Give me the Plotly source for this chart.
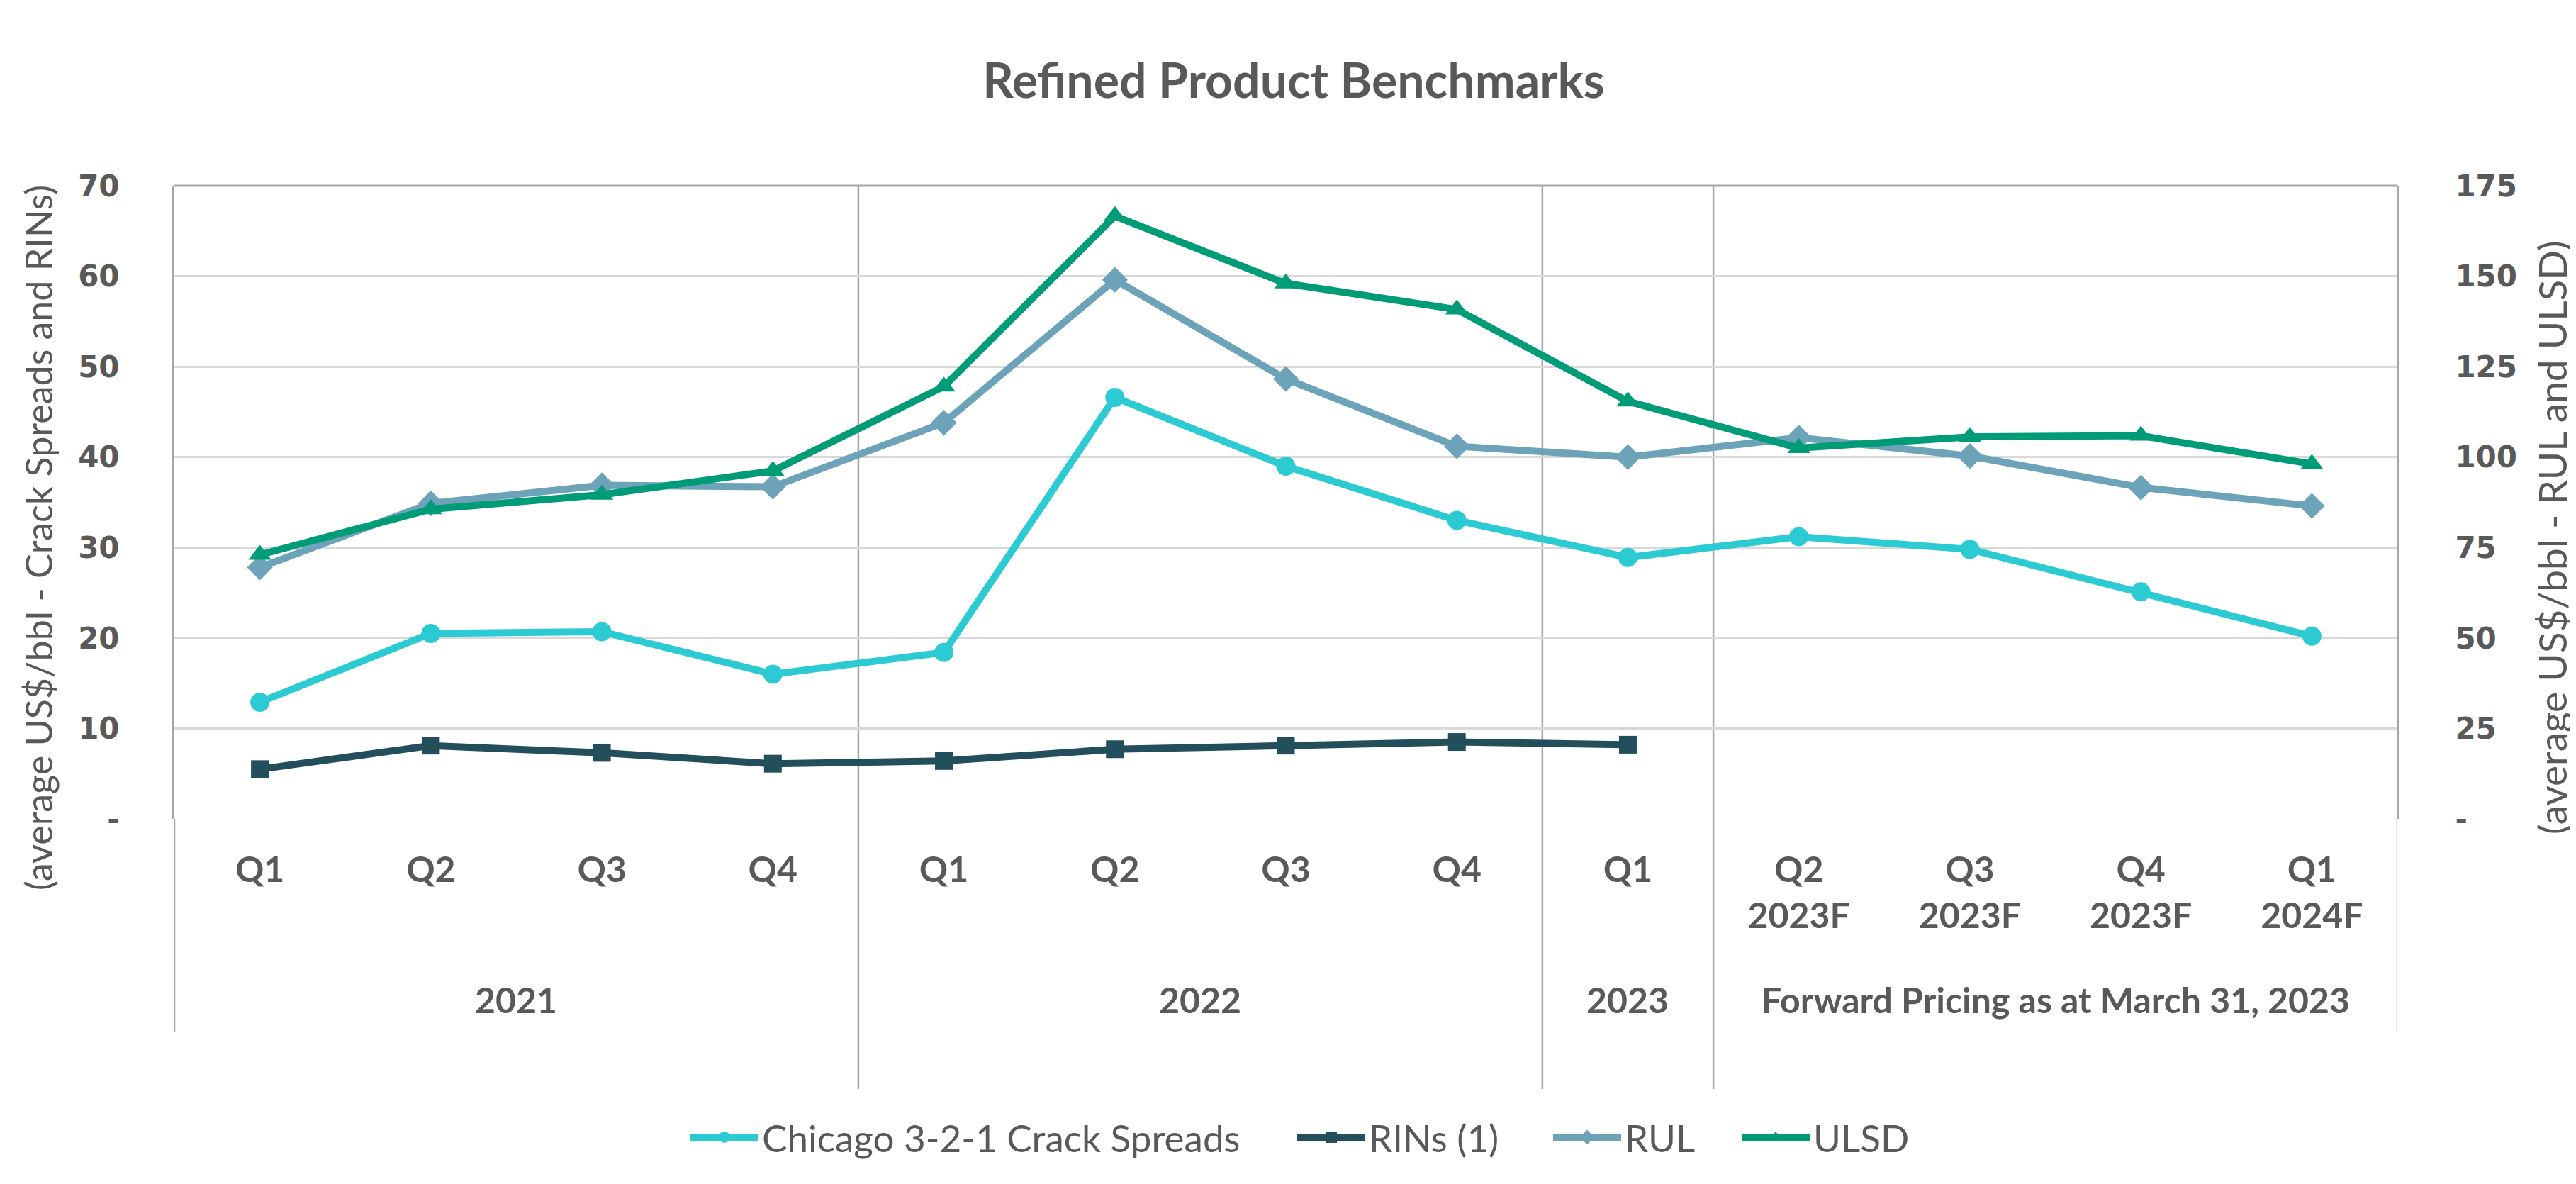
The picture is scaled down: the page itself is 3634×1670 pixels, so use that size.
import plotly.graph_objects as go

# ---------------- data ----------------
groups = ["2021"] * 4 + ["2022"] * 4 + ["2023"] + ["Forward Pricing as at March 31, 2023"] * 4
quarters = ["Q1", "Q2", "Q3", "Q4", "Q1", "Q2", "Q3", "Q4", "Q1",
            "Q2<br>2023F", "Q3<br>2023F", "Q4<br>2023F", "Q1<br>2024F"]

crack = [12.9, 20.5, 20.7, 16.0, 18.4, 46.6, 39.0, 33.0, 28.9, 31.2, 29.8, 25.1, 20.2]
rins = [5.5, 8.1, 7.3, 6.1, 6.4, 7.7, 8.1, 8.5, 8.2, None, None, None, None]
rul = [69.5, 87.2, 92.2, 91.8, 109.5, 149.0, 121.6, 103.0, 100.0, 105.4, 100.3, 91.6, 86.5]
ulsd = [73.0, 85.6, 89.6, 96.2, 119.5, 166.6, 148.0, 140.8, 115.4, 102.5, 105.6, 105.9, 98.1]

left_ticks = [0, 10, 20, 30, 40, 50, 60, 70]
right_ticks = [0, 25, 50, 75, 100, 125, 150, 175]

# ---------------- style ----------------
TXT = "#595959"
GRID = "#D9D9D9"
BORDER = "#A6A6A6"
C_CRACK = "#2CCBD3"
C_RINS = "#234E5C"
C_RUL = "#6CA3B9"
C_ULSD = "#009B77"
FONT = "Lato"
NUMFONT = "DejaVu Sans"

keys = [f"{g}|{i}" for i, g in enumerate(groups)]

W, H = 3634, 1670
L, R, T, B = 238, 260, 254, 523
plot_h = H - T - B


def py(pix):
    """convert image pixel row to paper y"""
    return (H - B - pix) / plot_h


def px(pix):
    return (pix - L) / (W - L - R)


series = [
    ("Chicago 3-2-1 Crack Spreads", crack, C_CRACK, "circle", 27, "y", "legend", 967),
    ("RINs (1)", rins, C_RINS, "square", 25, "y", "legend2", 1823),
    ("RUL", rul, C_RUL, "diamond", 28, "y2", "legend3", 2184),
    ("ULSD", ulsd, C_ULSD, "triangle-up", 28, "y2", "legend4", 2450),
]

fig = go.Figure()
legends = {}
for name, vals, col, sym, size, yax, leg, lx in series:
    fig.add_trace(go.Scatter(x=keys, y=vals, name=name, mode="lines+markers", yaxis=yax,
                             legend=leg,
                             line=dict(color=col, width=10),
                             marker=dict(symbol=sym, size=size, color=col)))
    legends[leg] = dict(orientation="h", x=px(lx - 6), xanchor="left", xref="paper",
                        y=py(1596), yanchor="middle",
                        font=dict(family=FONT, size=53, color=TXT), itemwidth=96,
                        bgcolor="rgba(0,0,0,0)", borderwidth=0)

fig.update_layout(
    template="none",
    width=W, height=H,
    margin=dict(l=L, r=R, t=T, b=B, autoexpand=False),
    paper_bgcolor="white", plot_bgcolor="white",
    title=dict(text="<b>Refined Product Benchmarks</b>", x=0.5, xref="container", xanchor="center",
               y=1 - 106 / H, yref="container", yanchor="middle",
               font=dict(family=FONT, size=68, color=TXT)),
    xaxis=dict(type="category", categoryorder="array", categoryarray=keys, automargin=False,
               tickvals=keys, ticktext=quarters, ticks="", showgrid=False, zeroline=False,
               showline=False, range=[-0.5, len(keys) - 0.5], tickangle=0,
               tickfont=dict(family=FONT, size=50, color=TXT, weight="bold"),
               ticklabelstandoff=38),
    yaxis=dict(range=[0, 70], tickvals=left_ticks, automargin=False,
               ticktext=["-" if v == 0 else str(v) for v in left_ticks],
               showgrid=True, gridcolor=GRID, gridwidth=3, zeroline=False,
               showline=True, linecolor=BORDER, linewidth=3, ticks="",
               tickfont=dict(family=NUMFONT, size=42, color=TXT, weight="bold"),
               ticklabelstandoff=66),
    yaxis2=dict(range=[0, 175], tickvals=right_ticks, automargin=False,
                ticktext=["-" if v == 0 else str(v) for v in right_ticks],
                overlaying="y", side="right", showgrid=False, zeroline=False,
                showline=True, linecolor=BORDER, linewidth=3, ticks="",
                tickfont=dict(family=NUMFONT, size=42, color=TXT, weight="bold"),
                ticklabelstandoff=70),
    showlegend=True,
    **legends,
)

# axis titles
fig.add_annotation(text="(average US$/bbl - Crack Spreads and RINs)", textangle=-90,
                   xref="paper", yref="paper", x=px(46), y=py(751), showarrow=False,
                   xanchor="center", yanchor="middle",
                   font=dict(family=FONT, size=52, color=TXT))
fig.add_annotation(text="(average US$/bbl - RUL and ULSD)", textangle=-90,
                   xref="paper", yref="paper", x=px(3592), y=py(750), showarrow=False,
                   xanchor="center", yanchor="middle",
                   font=dict(family=FONT, size=55, color=TXT))

# group labels and dividers
bounds = [-0.5]
uniq = []
for i, g in enumerate(groups):
    if i == 0 or g != groups[i - 1]:
        if i > 0:
            bounds.append(i - 0.5)
        uniq.append([g, i, i])
    else:
        uniq[-1][2] = i
bounds.append(len(groups) - 0.5)

for g, a, b in uniq:
    fig.add_annotation(text=f"<b>{g}</b>", x=(a + b) / 2, xref="x", y=py(1402), yref="paper",
                       showarrow=False, xanchor="center", yanchor="middle",
                       font=dict(family=FONT, size=50, color=TXT))

for j, bx in enumerate(bounds):
    edge = j == 0 or j == len(bounds) - 1
    fig.add_shape(type="line", xref="x", yref="paper", x0=bx, x1=bx,
                  y0=0 if edge else 1, y1=py(1447) if edge else py(1528),
                  line=dict(color=BORDER, width=2.5), layer="below")

# top border
fig.add_shape(type="line", xref="paper", yref="paper", x0=0, x1=1, y0=1, y1=1,
              line=dict(color=BORDER, width=3), layer="below")

fig.write_html("out.html")
